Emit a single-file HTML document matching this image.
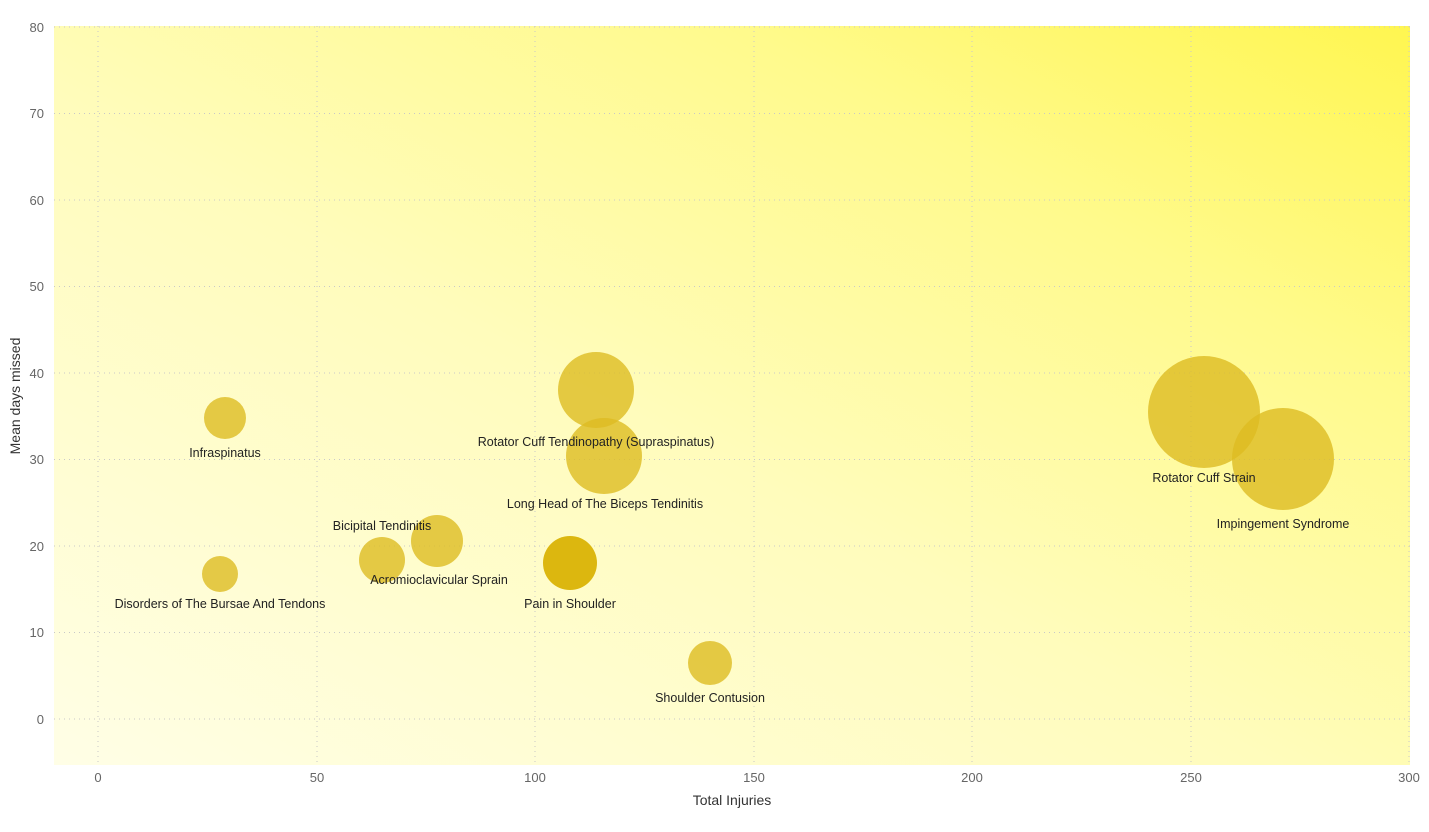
<!DOCTYPE html>
<html><head><meta charset="utf-8"><style>
body{margin:0;background:#fff;}
text{font-family:"Liberation Sans","DejaVu Sans",sans-serif;}
</style></head><body>
<svg width="1429" height="827" viewBox="0 0 1429 827" xmlns="http://www.w3.org/2000/svg">
<defs>
<linearGradient id="bg" x1="0" y1="1" x2="1" y2="0">
<stop offset="0" stop-color="#fffee6"/>
<stop offset="0.45" stop-color="#fffcbc"/>
<stop offset="0.75" stop-color="#fffa8c"/>
<stop offset="1" stop-color="#fff650"/>
</linearGradient>
</defs>
<rect x="54" y="26" width="1356" height="739" fill="url(#bg)"/>
<g stroke="#c8c8c8" stroke-width="1" stroke-dasharray="1,4">
<line x1="54" y1="27" x2="1410" y2="27"/>
<line x1="54" y1="113.5" x2="1410" y2="113.5"/>
<line x1="54" y1="200" x2="1410" y2="200"/>
<line x1="54" y1="286.5" x2="1410" y2="286.5"/>
<line x1="54" y1="373" x2="1410" y2="373"/>
<line x1="54" y1="459.5" x2="1410" y2="459.5"/>
<line x1="54" y1="546" x2="1410" y2="546"/>
<line x1="54" y1="632.5" x2="1410" y2="632.5"/>
<line x1="54" y1="719" x2="1410" y2="719"/>
<line x1="98" y1="26" x2="98" y2="765"/>
<line x1="317" y1="26" x2="317" y2="765"/>
<line x1="535" y1="26" x2="535" y2="765"/>
<line x1="754" y1="26" x2="754" y2="765"/>
<line x1="972" y1="26" x2="972" y2="765"/>
<line x1="1191" y1="26" x2="1191" y2="765"/>
<line x1="1409" y1="26" x2="1409" y2="765"/>
</g>
<g font-size="13" fill="#666" text-anchor="end">
<text x="44" y="32">80</text><text x="44" y="118">70</text><text x="44" y="205">60</text>
<text x="44" y="291">50</text><text x="44" y="378">40</text><text x="44" y="464">30</text>
<text x="44" y="551">20</text><text x="44" y="637">10</text><text x="44" y="724">0</text>
</g>
<g font-size="13" fill="#666" text-anchor="middle">
<text x="98" y="782">0</text><text x="317" y="782">50</text><text x="535" y="782">100</text>
<text x="754" y="782">150</text><text x="972" y="782">200</text><text x="1191" y="782">250</text>
<text x="1409" y="782">300</text>
</g>
<text x="732" y="805" font-size="14" fill="#333" text-anchor="middle">Total Injuries</text>
<text transform="translate(20,396) rotate(-90)" font-size="14" fill="#333" text-anchor="middle">Mean days missed</text>
<g fill="#ddbb22" fill-opacity="0.8">
<circle cx="225" cy="418" r="21"/>
<circle cx="220" cy="574" r="18"/>
<circle cx="382" cy="560" r="23"/>
<circle cx="437" cy="541" r="26"/>
<circle cx="596" cy="390" r="38"/>
<circle cx="604" cy="456" r="38"/>
<circle cx="710" cy="663" r="22"/>
<circle cx="1204" cy="412" r="56"/>
<circle cx="1283" cy="459" r="51"/>
</g>
<circle cx="570" cy="563" r="27" fill="#dcb70f"/>
<g font-size="12.5" fill="#222" text-anchor="middle">
<text x="225" y="457">Infraspinatus</text>
<text x="220" y="608">Disorders of The Bursae And Tendons</text>
<text x="382" y="530">Bicipital Tendinitis</text>
<text x="439" y="584">Acromioclavicular Sprain</text>
<text x="596" y="446">Rotator Cuff Tendinopathy (Supraspinatus)</text>
<text x="605" y="508">Long Head of The Biceps Tendinitis</text>
<text x="570" y="608">Pain in Shoulder</text>
<text x="710" y="702">Shoulder Contusion</text>
<text x="1204" y="482">Rotator Cuff Strain</text>
<text x="1283" y="528">Impingement Syndrome</text>
</g>
</svg>
</body></html>
